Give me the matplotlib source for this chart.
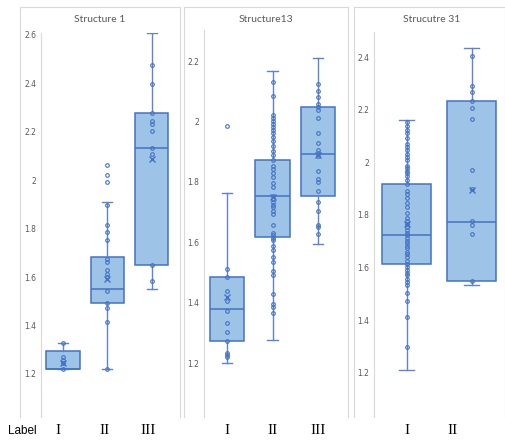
import matplotlib
matplotlib.use("Agg")
import matplotlib.pyplot as plt
from matplotlib.lines import Line2D

# ---------------- data ----------------
titles = ["Structure 1", "Structure13", "Strucutre 31"]
categories = [["I", "II", "III"], ["I", "II", "III"], ["I", "II"]]

# Structure 1
s1_whislo = [1.221, 1.221, 1.551]
s1_q1 = [1.221, 1.492, 1.649]
s1_med = [1.221, 1.551, 2.132]
s1_q3 = [1.296, 1.682, 2.277]
s1_whishi = [1.327, 1.912, 2.607]
s1_mean = [1.247, 1.594, 2.087]
s1_pts_I = [1.221, 1.245, 1.258, 1.271, 1.327]
s1_pts_II = [1.221, 1.414, 1.474, 1.492, 1.542, 1.602, 1.612, 1.631, 1.664,
             1.675, 1.751, 1.785, 1.815, 1.897, 1.992, 2.022, 2.063]
s1_pts_III = [1.584, 1.649, 2.107, 2.132, 2.204, 2.231, 2.246, 2.277, 2.399, 2.476]

# Structure13
s13_whislo = [1.200, 1.277, 1.594]
s13_q1 = [1.273, 1.619, 1.753]
s13_med = [1.378, 1.753, 1.891]
s13_q3 = [1.484, 1.872, 2.047]
s13_whishi = [1.762, 2.167, 2.209]
s13_mean = [1.420, 1.751, 1.890]
s13_pts_I = [1.220, 1.226, 1.233, 1.273, 1.303, 1.332, 1.373, 1.405, 1.440,
             1.484, 1.512, 1.985]
s13_pts_II = [1.367, 1.387, 1.396, 1.429, 1.492, 1.506, 1.535, 1.553, 1.575,
              1.588, 1.608, 1.615, 1.624, 1.632, 1.657, 1.694, 1.705, 1.716,
              1.724, 1.735, 1.743, 1.753, 1.784, 1.795, 1.816, 1.831, 1.844,
              1.853, 1.872, 1.888, 1.903, 1.920, 1.936, 1.948, 1.962, 1.972,
              1.982, 1.992, 2.001, 2.012, 2.022, 2.084, 2.130]
s13_pts_III = [1.628, 1.650, 1.657, 1.705, 1.735, 1.770, 1.801, 1.811, 1.837,
               1.887, 1.895, 1.905, 1.929, 1.962, 2.011, 2.039, 2.047, 2.057,
               2.082, 2.100, 2.125]

# Strucutre 31
s31_whislo = [1.210, 1.534]
s31_q1 = [1.612, 1.549]
s31_med = [1.724, 1.772]
s31_q3 = [1.918, 2.235]
s31_whishi = [2.160, 2.437]
s31_mean = [1.765, 1.895]
s31_pts_I = [1.299, 1.412, 1.474, 1.501, 1.534, 1.545, 1.558, 1.572, 1.580,
             1.591, 1.603, 1.612, 1.626, 1.638, 1.651, 1.660, 1.673, 1.682,
             1.692, 1.702, 1.711, 1.723, 1.733, 1.743, 1.755, 1.764, 1.775,
             1.788, 1.806, 1.829, 1.844, 1.866, 1.880, 1.891, 1.919, 1.933,
             1.948, 1.958, 1.967, 1.977, 1.988, 2.009, 2.019, 2.033, 2.047,
             2.060, 2.070, 2.094, 2.111, 2.123, 2.139, 2.152]
s31_pts_II = [1.549, 1.729, 1.763, 1.775, 1.899, 1.969, 2.165, 2.208, 2.235,
              2.267, 2.291, 2.404]

y_ticks = [[1.2, 1.4, 1.6, 1.8, 2.0, 2.2, 2.4, 2.6],
           [1.2, 1.4, 1.6, 1.8, 2.0, 2.2],
           [1.2, 1.4, 1.6, 1.8, 2.0, 2.2, 2.4]]
y_tick_labels = [["1.2", "1.4", "1.6", "1.8", "2", "2.2", "2.4", "2.6"],
                 ["1.2", "1.4", "1.6", "1.8", "2", "2.2"],
                 ["1.2", "1.4", "1.6", "1.8", "2", "2.2", "2.4"]]

panels = [
    (s1_whislo, s1_q1, s1_med, s1_q3, s1_whishi, s1_mean, [s1_pts_I, s1_pts_II, s1_pts_III]),
    (s13_whislo, s13_q1, s13_med, s13_q3, s13_whishi, s13_mean, [s13_pts_I, s13_pts_II, s13_pts_III]),
    (s31_whislo, s31_q1, s31_med, s31_q3, s31_whishi, s31_mean, [s31_pts_I, s31_pts_II]),
]

# ---------------- layout (pixels) ----------------
W, H = 505, 441
axes_px = [(40.7, 33, 174.0, 417, 1.022, 2.608),
           (204.0, 30, 341.0, 417, 1.022, 2.303),
           (374.0, 32, 504.5, 417, 1.031, 2.496)]
frames_px = [(20, 7, 180), (184, 7, 348), (354, 7, 505)]
title_x = [100, 266, 432]
label_x = [[58, 105, 148], [227, 273, 318], [407, 453]]

BLUE = "#4472C4"
FILL = "#9DC3E6"
GRID = "#D9D9D9"
TXT = "#595959"

fig = plt.figure(figsize=(W / 100, H / 100), dpi=100)
fig.patch.set_facecolor("white")

# chart-area frames
for (l, t, r) in frames_px:
    fig.add_artist(Line2D([l / W, l / W], [1 - t / H, 1 - 417 / H], color=GRID, lw=0.8))
    fig.add_artist(Line2D([r / W, r / W], [1 - t / H, 1 - 417 / H], color=GRID, lw=0.8))
    fig.add_artist(Line2D([l / W, r / W], [1 - t / H, 1 - t / H], color=GRID, lw=0.8))

for k, (stats_src, (l, t, r, b, y0, y1)) in enumerate(zip(panels, axes_px)):
    whislo, q1, med, q3, whishi, mean, pts = stats_src
    ax = fig.add_axes([l / W, 1 - b / H, (r - l) / W, (b - t) / H])
    n = len(q1)
    stats = []
    for i in range(n):
        stats.append(dict(whislo=whislo[i], q1=q1[i], med=med[i], q3=q3[i],
                          whishi=whishi[i], mean=mean[i], fliers=[]))
    pos = list(range(1, n + 1))
    ax.bxp(stats, positions=pos, widths=0.75, patch_artist=True,
           showmeans=True, showfliers=False, capwidths=0.23,
           boxprops=dict(facecolor=FILL, edgecolor=BLUE, linewidth=1.1),
           whiskerprops=dict(color="#5F83CC", linewidth=1.0),
           capprops=dict(color="#5F83CC", linewidth=1.0),
           medianprops=dict(color=BLUE, linewidth=1.1),
           meanprops=dict(marker="x", markeredgecolor=BLUE, markersize=5,
                          markeredgewidth=1.0, linestyle="none"),
           zorder=2)
    for i, p in enumerate(pts):
        ax.plot([pos[i]] * len(p), p, linestyle="none", marker="o",
                markersize=2.6, markerfacecolor="none", markeredgecolor=BLUE,
                markeredgewidth=0.8, zorder=3)
    ax.set_xlim(0.5, n + 0.5)
    ax.set_ylim(y0, y1)
    ax.set_yticks(y_ticks[k])
    ax.set_yticklabels(y_tick_labels[k])
    ax.set_xticks([])
    ax.tick_params(axis="y", length=0, pad=3.3, labelsize=5.5, labelcolor=TXT)
    for s in ["top", "right", "bottom"]:
        ax.spines[s].set_visible(False)
    ax.spines["left"].set_color(GRID)
    ax.spines["left"].set_linewidth(0.8)
    ax.patch.set_alpha(0)
    fig.text(title_x[k] / W, 1 - 20 / H, titles[k], ha="center", va="center",
             fontsize=7.5, color=TXT, family="Lato")
    for j, c in enumerate(categories[k]):
        fig.text(label_x[k][j] / W, 1 - 431 / H, c, ha="center", va="center",
                 fontsize=11, color="black", family="Liberation Serif")

fig.text(8 / W, 1 - 431 / H, "Label", ha="left", va="center", fontsize=8.5,
         color="black", family="Liberation Sans")

fig.savefig("out.png", dpi=100, facecolor="white")
